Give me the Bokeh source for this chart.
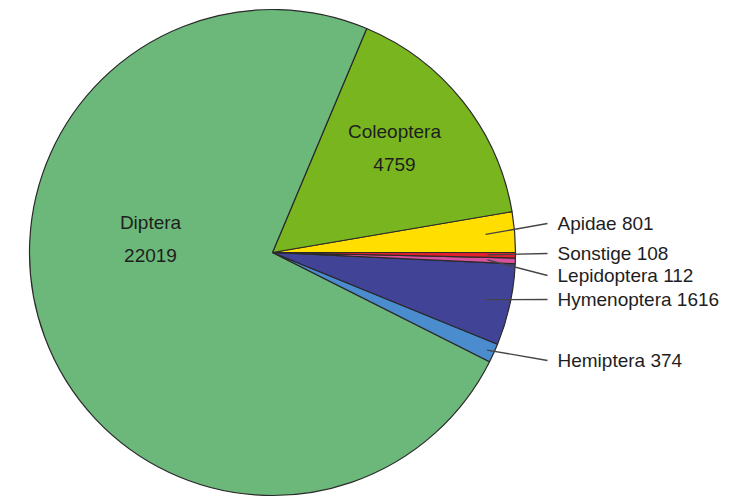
import math
from bokeh.plotting import figure
from bokeh.models import Range1d, ColumnDataSource
from bokeh.core.properties import value
from bokeh.embed import file_html
from bokeh.resources import INLINE

# data (anticlockwise from 3 o'clock)
categories = ["Apidae", "Coleoptera", "Diptera", "Hemiptera", "Hymenoptera", "Lepidoptera", "Sonstige"]
counts = [801, 4759, 22019, 374, 1616, 112, 108]
colors = ["#ffde00", "#79b51f", "#6cb87a", "#4a8ccd", "#414397", "#d8509e", "#e0202c"]

# layout
W, H = 741, 497
CX, CY, R = 272, H - 252, 243

p = figure(width=W, height=H, output_backend="svg", toolbar_location=None,
           x_range=Range1d(0, W), y_range=Range1d(0, H),
           min_border=0, outline_line_color=None)
p.axis.visible = False
p.grid.visible = False
p.background_fill_color = "white"

total = sum(counts)
starts, ends = [], []
acc = 0.0
for c in counts:
    starts.append(2 * math.pi * acc / total)
    acc += c
    ends.append(2 * math.pi * acc / total)

src = ColumnDataSource(dict(start=starts, end=ends, color=colors, cat=categories))
p.wedge(x=CX, y=CY, radius=R, start_angle="start", end_angle="end",
        fill_color="color", line_color="#2a2a2a", line_width=1.2, source=src)

FONT = value("Liberation Sans")
FS = "19px"
TC = "#1e1e1e"

# inside labels
inside = {"Diptera": (150, 222, 255), "Coleoptera": (394, 131, 164)}
for i, cat in enumerate(categories):
    if cat in inside:
        x, y1, y2 = inside[cat]
        p.text(x=[x], y=[H - y1], text=[cat], text_font=FONT, text_font_size=FS,
               text_align="center", text_baseline="middle", text_color=TC)
        p.text(x=[x], y=[H - y2], text=[str(counts[i])], text_font=FONT, text_font_size=FS,
               text_align="center", text_baseline="middle", text_color=TC)

# outside labels with leader lines
outside = {"Apidae": (223, 0.88), "Sonstige": (253, 0.885), "Lepidoptera": (275, 0.885),
           "Hymenoptera": (299, 0.9), "Hemiptera": (360, 0.97)}
LX_END, TX = 547, 557
for i, cat in enumerate(categories):
    if cat in outside:
        ly, frac = outside[cat]
        mid = (starts[i] + ends[i]) / 2
        x0 = CX + frac * R * math.cos(mid)
        y0 = CY + frac * R * math.sin(mid)
        p.line(x=[x0, LX_END], y=[y0, H - ly], line_color="#444444", line_width=1.3)
        p.text(x=[TX], y=[H - ly], text=[f"{cat} {counts[i]}"], text_font=FONT,
               text_font_size=FS, text_align="left", text_baseline="middle",
               text_color=TC)

open("out.html", "w").write(file_html(p, INLINE))
